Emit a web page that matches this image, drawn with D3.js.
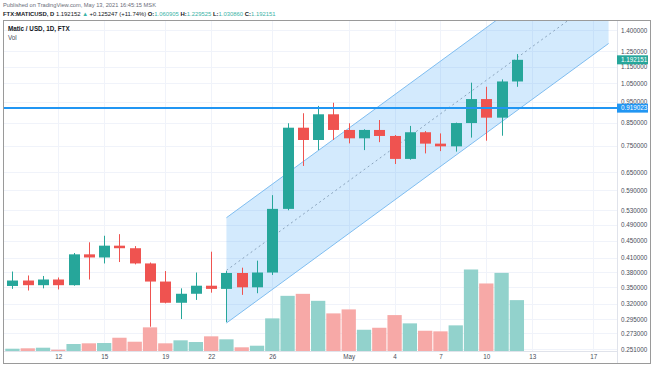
<!DOCTYPE html>
<html>
<head>
<meta charset="utf-8">
<script src="https://cdn.jsdelivr.net/npm/d3@7"></script>
<style>
  body { margin: 0; background: #fff; }
  svg { display: block; font-family: "Liberation Sans", Arial, sans-serif; }
</style>
</head>
<body>
<svg id="chart" width="654" height="366"></svg>
<script>
// daily candles, FTX MATIC/USD
var dates = ["2021-04-09", "2021-04-10", "2021-04-11", "2021-04-12", "2021-04-13", "2021-04-14", "2021-04-15",
	"2021-04-16", "2021-04-17", "2021-04-18", "2021-04-19", "2021-04-20", "2021-04-21", "2021-04-22",
	"2021-04-23", "2021-04-24", "2021-04-25", "2021-04-26", "2021-04-27", "2021-04-28", "2021-04-29",
	"2021-04-30", "2021-05-01", "2021-05-02", "2021-05-03", "2021-05-04", "2021-05-05", "2021-05-06",
	"2021-05-07", "2021-05-08", "2021-05-09", "2021-05-10", "2021-05-11", "2021-05-12"];
var opens = [0.3525, 0.363, 0.354, 0.365, 0.354, 0.418, 0.411, 0.438, 0.432, 0.398, 0.361, 0.322, 0.338, 0.353,
	0.347, 0.378, 0.350, 0.379, 0.534, 0.827, 0.774, 0.889, 0.817, 0.781, 0.817, 0.791, 0.699, 0.807,
	0.759, 0.748, 0.848, 0.965, 0.873, 1.060905];
var highs = [0.381, 0.373, 0.372, 0.369, 0.421, 0.446, 0.462, 0.466, 0.437, 0.400, 0.382, 0.348, 0.379, 0.424,
	0.382, 0.389, 0.404, 0.575, 0.847, 0.894, 0.930, 0.946, 0.847, 0.820, 0.862, 0.795, 0.835, 0.812,
	0.802, 0.850, 1.054, 1.031, 1.073, 1.229525];
var lows = [0.347, 0.344, 0.348, 0.346, 0.353, 0.365, 0.398, 0.401, 0.396, 0.283, 0.321, 0.295, 0.327, 0.340,
	0.290, 0.336, 0.339, 0.374, 0.530, 0.673, 0.733, 0.774, 0.760, 0.733, 0.765, 0.680, 0.696, 0.720,
	0.729, 0.727, 0.784, 0.771, 0.792, 1.030860];
var closes = [0.363, 0.354, 0.365, 0.354, 0.418, 0.411, 0.438, 0.432, 0.398, 0.361, 0.322, 0.338, 0.353, 0.347,
	0.378, 0.350, 0.379, 0.534, 0.827, 0.774, 0.889, 0.817, 0.781, 0.817, 0.791, 0.699, 0.807, 0.759,
	0.748, 0.848, 0.965, 0.873, 1.061, 1.192151];
// volume, millions
var volumes = [1.15, 1.35, 1.65, 0.65, 3.5, 3.85, 4.0, 6.65, 4.65, 11.85, 3.85, 5.35, 4.5, 7.35,
	5.85, 1.85, 2.65, 16.35, 27.65, 28.65, 25.15, 18.85, 20.85, 10.65, 11.65, 18.0, 13.85, 10.15,
	9.85, 12.85, 40.85, 33.85, 39.15, 25.5];

// drawings
var channelDates = ["2021-04-23", "2021-05-18"];
var channelLower = [0.2887, 1.3018];
var channelUpper = [0.5092, 2.296];
var hLinePrice = 0.919023;
var lastPrice = 1.192151;

// axes
var priceTicks = [1.4, 1.25, 1.15, 1.05, 0.95, 0.85, 0.75, 0.65, 0.59, 0.53, 0.49, 0.45, 0.41, 0.38, 0.35,
	0.32, 0.295, 0.273, 0.251];
var timeTicks = ["2021-04-12", "2021-04-15", "2021-04-19", "2021-04-22", "2021-04-26", "2021-05-01",
	"2021-05-04", "2021-05-07", "2021-05-10", "2021-05-13", "2021-05-17"];
var timeLabels = ["12", "15", "19", "22", "26", "May", "4", "7", "10", "13", "17"];

var parseDay = d3.utcParse("%Y-%m-%d");
var up = "#26a69a", down = "#ef5350";
var plot = {left: 4, right: 617, top: 21, bottom: 351};

var svg = d3.select("#chart");

var x = d3.scaleUtc()
		.domain([parseDay("2021-04-12"), parseDay("2021-05-17")])
		.range([58.3, 593.3]);
var y = d3.scaleLog()
		.domain([0.251, 1.4])
		.range([349, 30]);
var yVol = d3.scaleLinear()
		.domain([0, d3.max(volumes)])
		.range([351, 269.5]);

var dayW = x(parseDay("2021-04-13")) - x(parseDay("2021-04-12"));

var data = dates.map(function (d, i) {
	return {date: parseDay(d), o: opens[i], h: highs[i], l: lows[i], c: closes[i], v: volumes[i]};
});

svg.append("defs").append("clipPath").attr("id", "plot-clip")
		.append("rect")
		.attr("x", plot.left).attr("y", plot.top)
		.attr("width", plot.right - plot.left).attr("height", plot.bottom - plot.top);

// grid
var grid = svg.append("g").attr("class", "grid");
grid.selectAll(".vgrid")
		.data(timeTicks)
		.enter().append("line")
		.attr("x1", function (d) { return Math.round(x(parseDay(d))) + 0.5; })
		.attr("x2", function (d) { return Math.round(x(parseDay(d))) + 0.5; })
		.attr("y1", plot.top).attr("y2", plot.bottom)
		.attr("stroke", "#f0f3fa");
grid.selectAll(".hgrid")
		.data(priceTicks)
		.enter().append("line")
		.attr("x1", plot.left).attr("x2", plot.right)
		.attr("y1", function (d) { return Math.round(y(d)) + 0.5; })
		.attr("y2", function (d) { return Math.round(y(d)) + 0.5; })
		.attr("stroke", "#f0f3fa");

var main = svg.append("g").attr("clip-path", "url(#plot-clip)");

// parallel channel
var cx0 = x(parseDay(channelDates[0])), cx1 = x(parseDay(channelDates[1]));
var midStart = Math.sqrt(channelLower[0] * channelUpper[0]);
var midEnd = Math.sqrt(channelLower[1] * channelUpper[1]);
main.append("path")
		.attr("d", "M" + cx0 + "," + y(channelLower[0]) + "L" + cx1 + "," + y(channelLower[1]) +
				"L" + cx1 + "," + y(channelUpper[1]) + "L" + cx0 + "," + y(channelUpper[0]) + "Z")
		.attr("fill", "rgba(33,150,243,0.2)");
[channelLower, channelUpper].forEach(function (c) {
	main.append("line")
			.attr("x1", cx0).attr("y1", y(c[0]))
			.attr("x2", cx1).attr("y2", y(c[1]))
			.attr("stroke", "#7fbdf0")
			.attr("stroke-width", 1);
});
main.append("line")
		.attr("x1", cx0).attr("y1", y(midStart))
		.attr("x2", cx1).attr("y2", y(midEnd))
		.attr("stroke", "#8aa4bd")
		.attr("stroke-width", 1)
		.attr("stroke-dasharray", "2,3");

// volume
main.selectAll(".vol")
		.data(data)
		.enter().append("rect")
		.attr("class", "vol")
		.attr("x", function (d) { return x(d.date) - dayW / 2 + 0.5; })
		.attr("width", dayW - 1)
		.attr("y", function (d) { return yVol(d.v); })
		.attr("height", function (d) { return yVol(0) - yVol(d.v); })
		.attr("fill", function (d) { return d.c >= d.o ? "#92d2cc" : "#f7a9a7"; });

// candles
var candle = main.selectAll(".candle")
		.data(data)
		.enter().append("g")
		.attr("class", "candle");
candle.append("line")
		.attr("x1", function (d) { return Math.round(x(d.date)) + 0.5; })
		.attr("x2", function (d) { return Math.round(x(d.date)) + 0.5; })
		.attr("y1", function (d) { return y(d.h); })
		.attr("y2", function (d) { return y(d.l); })
		.attr("stroke", function (d) { return d.c >= d.o ? up : down; });
candle.append("rect")
		.attr("x", function (d) { return Math.round(x(d.date)) + 0.5 - 5.5; })
		.attr("width", 11)
		.attr("y", function (d) { return y(Math.max(d.o, d.c)); })
		.attr("height", function (d) { return Math.max(1.5, Math.abs(y(d.o) - y(d.c))); })
		.attr("fill", function (d) { return d.c >= d.o ? up : down; });

// horizontal line
main.append("line")
		.attr("x1", plot.left).attr("x2", plot.right)
		.attr("y1", y(hLinePrice)).attr("y2", y(hLinePrice))
		.attr("stroke", "#2196f3")
		.attr("stroke-width", 2);

// axes
svg.append("line")
		.attr("x1", plot.right + 0.5).attr("x2", plot.right + 0.5)
		.attr("y1", plot.top).attr("y2", 363)
		.attr("stroke", "#e0e3eb");
svg.append("line")
		.attr("x1", plot.left).attr("x2", plot.right)
		.attr("y1", plot.bottom + 0.5).attr("y2", plot.bottom + 0.5)
		.attr("stroke", "#e0e3eb");

var yAxis = d3.axisRight(y)
		.tickValues(priceTicks)
		.tickFormat(d3.format(".6f"))
		.tickSize(0)
		.tickPadding(4);
var gy = svg.append("g")
		.attr("transform", "translate(" + plot.right + ",0)")
		.call(yAxis);
gy.select(".domain").remove();
gy.selectAll("text")
		.attr("fill", "#4a4e59")
		.style("font-size", "6.3px");

var xAxis = d3.axisBottom(x)
		.tickValues(timeTicks.map(parseDay))
		.tickFormat(function (d, i) { return timeLabels[i]; })
		.tickSize(0)
		.tickPadding(4);
var gx = svg.append("g")
		.attr("transform", "translate(0," + plot.bottom + ")")
		.call(xAxis);
gx.select(".domain").remove();
gx.selectAll("text")
		.attr("fill", "#4a4e59")
		.style("font-size", "6.3px");

// price labels on the axis
function priceLabel(price, color) {
	var g = svg.append("g").attr("transform", "translate(" + plot.right + "," + y(price) + ")");
	g.append("rect")
			.attr("x", 0).attr("y", -4.5)
			.attr("width", 31).attr("height", 9)
			.attr("fill", color);
	g.append("text")
			.attr("x", 4).attr("dy", "0.34em")
			.attr("fill", "#fff")
			.style("font-size", "6.3px")
			.text(d3.format(".6f")(price));
}
priceLabel(hLinePrice, "#2196f3");
priceLabel(lastPrice, up);

// frame
svg.append("rect")
		.attr("x", 3.5).attr("y", 20.5)
		.attr("width", 647).attr("height", 343)
		.attr("fill", "none")
		.attr("stroke", "#9a9a9a");

// header
svg.append("text")
		.attr("x", 3).attr("y", 7)
		.attr("fill", "#6a6d78")
		.style("font-size", "5.7px")
		.text("Published on TradingView.com, May 13, 2021 16:45:15 MSK");

var hdr = svg.append("text")
		.attr("x", 3).attr("y", 16)
		.attr("fill", "#131722")
		.style("font-size", "5.9px");
var teal = "#3bb3a6";
[["FTX:MATICUSD, D ", "#131722", "bold"], ["1.192152 ", "#131722"], ["\u25B2 ", teal],
	["+0.125247 (+11.74%) ", "#131722"], ["O:", "#131722", "bold"], ["1.060905 ", teal],
	["H:", "#131722", "bold"], ["1.229525 ", teal], ["L:", "#131722", "bold"], ["1.030860 ", teal],
	["C:", "#131722", "bold"], ["1.192151", teal]].forEach(function (p) {
	hdr.append("tspan")
			.attr("fill", p[1])
			.style("font-weight", p[2] || "normal")
			.text(p[0]);
});

svg.append("text")
		.attr("x", 8).attr("y", 31)
		.attr("fill", "#131722")
		.style("font-size", "6.3px")
		.style("font-weight", "bold")
		.text("Matic / USD, 1D, FTX");
svg.append("text")
		.attr("x", 8).attr("y", 40)
		.attr("fill", "#4a4e59")
		.style("font-size", "6.3px")
		.text("Vol");
</script>
</body>
</html>
